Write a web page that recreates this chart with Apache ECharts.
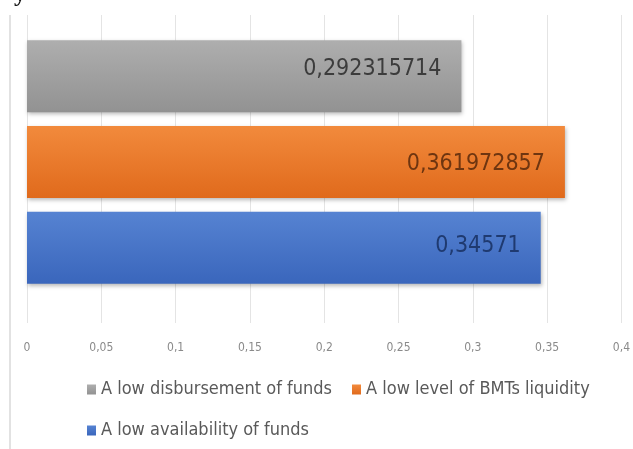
<!DOCTYPE html>
<html>
<head>
<meta charset="utf-8">
<script src="https://cdn.jsdelivr.net/npm/echarts@6/dist/echarts.min.js"></script>
<style>
  html, body { margin: 0; padding: 0; background: #ffffff; }
  #chart { width: 633px; height: 449px; }
</style>
</head>
<body>
<div id="chart"></div>
<script>
// One category, three horizontal bars (one per series)
const categories = ['Funds'];
const legendOrder = [
  'A low disbursement of funds',
  'A low level of BMTs liquidity',
  'A low availability of funds'
];
const disbursementValues = [0.292315714];
const liquidityValues = [0.361972857];
const availabilityValues = [0.34571];
const axisMin = 0;
const axisMax = 0.4;
const axisStep = 0.05;

const NARROW = '"DejaVu Sans Condensed", "Liberation Sans Narrow", sans-serif';
const toComma = v => String(v).replace('.', ',');

function grad(top, bottom) {
  return new echarts.graphic.LinearGradient(0, 0, 0, 1, [
    { offset: 0, color: top },
    { offset: 1, color: bottom }
  ]);
}

function barSeries(name, data, top, bottom, labelColor, dy) {
  return {
    name: name,
    type: 'bar',
    data: data,
    barWidth: 72,
    barGap: '19%',
    itemStyle: {
      color: grad(top, bottom),
      shadowColor: 'rgba(0,0,0,0.28)',
      shadowBlur: 4,
      shadowOffsetX: 1,
      shadowOffsetY: 2
    },
    label: {
      show: true,
      position: 'insideRight',
      distance: 20,
      offset: [0, dy],
      formatter: p => toComma(p.value),
      fontFamily: NARROW,
      fontSize: 23,
      color: labelColor
    }
  };
}

const chart = echarts.init(document.getElementById('chart'), null, { renderer: 'canvas' });

chart.setOption({
  backgroundColor: '#ffffff',
  animation: false,
  grid: { left: 27, right: 10, top: 15, height: 294 },
  xAxis: {
    type: 'value',
    min: axisMin,
    max: axisMax,
    interval: axisStep,
    axisLine: { show: false },
    axisTick: { show: true, length: 14, lineStyle: { color: '#e4e4e4', width: 1 } },
    splitLine: { show: true, lineStyle: { color: '#e4e4e4', width: 1 } },
    axisLabel: {
      margin: 33,
      formatter: v => toComma(Math.round(v * 100) / 100),
      fontFamily: NARROW,
      fontSize: 12,
      color: '#8a8a8a'
    }
  },
  yAxis: {
    type: 'category',
    data: categories,
    axisLine: { show: false },
    axisTick: { show: false },
    axisLabel: { show: false },
    splitLine: { show: false }
  },
  legend: {
    data: legendOrder,
    left: 82,
    top: 374,
    width: 540,
    orient: 'horizontal',
    icon: 'rect',
    itemWidth: 9,
    itemHeight: 10,
    itemGap: 20,
    textStyle: {
      fontFamily: NARROW,
      fontSize: 18,
      lineHeight: 21,
      color: '#595959'
    }
  },
  graphic: [
    {
      type: 'line',
      shape: { x1: 10, y1: 15, x2: 10, y2: 449 },
      style: { stroke: '#d9d9d9', lineWidth: 1.5 },
      silent: true
    },
    {
      type: 'text',
      left: 14,
      top: -17,
      style: { text: 'y', font: 'bold 24px "Liberation Serif", serif', fill: '#111111' },
      silent: true
    }
  ],
  series: [
    barSeries('A low disbursement of funds', disbursementValues, '#aeaeae', '#929292', '#3c3c3c', -7),
    barSeries('A low level of BMTs liquidity', liquidityValues, '#f28a3c', '#e06a1c', '#6e3510', 2),
    barSeries('A low availability of funds', availabilityValues, '#5683d2', '#3a66bc', '#1f3a70', -2)
  ]
});
</script>
</body>
</html>
